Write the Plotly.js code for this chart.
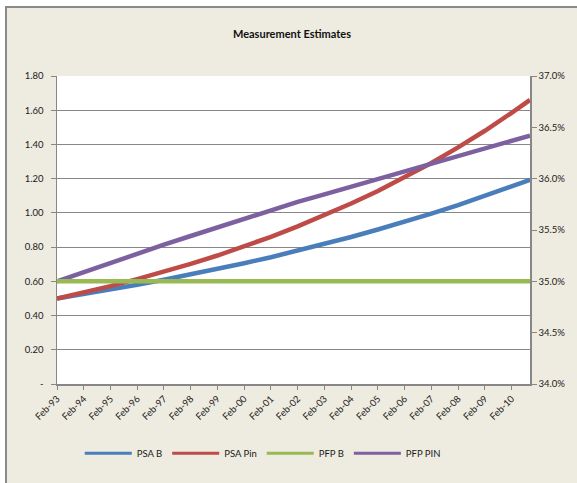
<!DOCTYPE html>
<html>
<head>
<meta charset="utf-8">
<script src="https://cdn.plot.ly/plotly-3.0.1.min.js"></script>
<style>
  html, body { margin: 0; padding: 0; background: #ffffff; width: 577px; height: 483px; overflow: hidden; }
  #frame { position: absolute; left: 5px; top: 6px; width: 572px; height: 477px;
           border-left: 2px solid #8a8a8a; border-top: 2px solid #8a8a8a; background: #EEEBE0; }
  #chart { position: absolute; left: 0; top: 0; width: 570px; height: 475px; }
</style>
</head>
<body>
<div id="frame"><div id="chart"></div></div>
<script>
// Observation dates (yearly, Feb-93 .. Feb-10, plus last point)
const dates = ["1993-02-01","1994-02-01","1995-02-01","1996-02-01","1997-02-01","1998-02-01",
               "1999-02-01","2000-02-01","2001-02-01","2002-02-01","2003-02-01","2004-02-01",
               "2005-02-01","2006-02-01","2007-02-01","2008-02-01","2009-02-01","2010-02-01","2010-10-10"];
const psaB   = [0.500,0.525,0.552,0.580,0.609,0.640,0.672,0.706,0.741,0.779,0.818,0.859,0.903,0.948,0.996,1.046,1.099,1.154,1.193];
const psaPin = [0.500,0.535,0.572,0.613,0.656,0.702,0.751,0.804,0.860,0.921,0.985,1.055,1.128,1.207,1.292,1.383,1.480,1.585,1.660];
const pfpB   = [0.350,0.350,0.350,0.350,0.350,0.350,0.350,0.350,0.350,0.350,0.350,0.350,0.350,0.350,0.350,0.350,0.350,0.350,0.350];
const pfpPin = [0.600,0.655,0.709,0.762,0.814,0.865,0.915,0.964,1.013,1.064,1.108,1.153,1.198,1.242,1.287,1.332,1.376,1.421,1.452];

const seriesNames = ["PSA B","PSA Pin","PFP B","PFP PIN"];
const seriesColors = ["#4A7EBB","#BE4B48","#98B954","#7D60A0"];

const leftTicks = [0,0.2,0.4,0.6,0.8,1.0,1.2,1.4,1.6,1.8];
const leftLabels = ["-","0.20","0.40","0.60","0.80","1.00","1.20","1.40","1.60","1.80"];
const rightTicks = [0.340,0.345,0.350,0.355,0.360,0.365,0.370];
const rightLabels = ["34.0%","34.5%","35.0%","35.5%","36.0%","36.5%","37.0%"];

const FONT = "Lato, 'Open Sans', sans-serif";
const GRID = "#878787";
const TXT = "#1a1a1a";
const W = 4.5;

const values = [psaB, psaPin, pfpB, pfpPin];
const traces = [];
values.forEach((v, i) => {
  traces.push({x: dates, y: v, name: seriesNames[i], mode: "lines", showlegend: false,
               yaxis: i === 2 ? "y2" : "y", line: {color: seriesColors[i], width: W}});
});
// legend entries (thinner sample lines, like the reference)
values.forEach((v, i) => {
  traces.push({x: [null], y: [null], name: seriesNames[i], mode: "lines",
               line: {color: seriesColors[i], width: 3}});
});

const layout = {
  width: 570, height: 475,
  paper_bgcolor: "#EEEBE0",
  plot_bgcolor: "#ffffff",
  margin: {l: 50, r: 47, t: 68, b: 99},
  font: {family: FONT, size: 9.5, color: TXT},
  title: {text: "<b>Measurement Estimates</b>", x: 0.5, xanchor: "center", y: 0.945, yanchor: "middle",
          font: {family: FONT, size: 11, color: "#111111"}},
  showlegend: true,
  legend: {orientation: "h", x: 0.435, xanchor: "center", y: -0.225, yanchor: "middle",
           font: {family: FONT, size: 9.5, color: TXT}, itemwidth: 47, bgcolor: "rgba(0,0,0,0)"},
  xaxis: {
    type: "date",
    range: ["1993-02-01", "2010-10-10"],
    tick0: "1993-02-01", dtick: "M12", tickformat: "%b-%y",
    tickangle: -45, ticks: "outside", ticklen: 4, tickcolor: GRID, tickwidth: 1,
    showline: true, linecolor: GRID, linewidth: 1.5,
    showgrid: false, zeroline: false,
    tickfont: {family: FONT, size: 9.5, color: TXT}
  },
  yaxis: {
    range: [0, 1.8], tickvals: leftTicks, ticktext: leftLabels,
    ticks: "outside", ticklen: 5, tickcolor: GRID, tickwidth: 1,
    showline: true, linecolor: GRID, linewidth: 1.5,
    showgrid: true, gridcolor: GRID, gridwidth: 1.2, zeroline: false,
    ticklabelstandoff: 5,
    tickfont: {family: FONT, size: 9.5, color: TXT}
  },
  yaxis2: {
    overlaying: "y", side: "right",
    range: [0.34, 0.37], tickvals: rightTicks, ticktext: rightLabels,
    ticks: "outside", ticklen: 5, tickcolor: GRID, tickwidth: 1,
    showline: true, linecolor: GRID, linewidth: 1.5,
    showgrid: false, zeroline: false,
    tickfont: {family: FONT, size: 9.5, color: TXT}
  }
};

Plotly.newPlot("chart", traces, layout, {displayModeBar: false, staticPlot: true});
</script>
</body>
</html>
